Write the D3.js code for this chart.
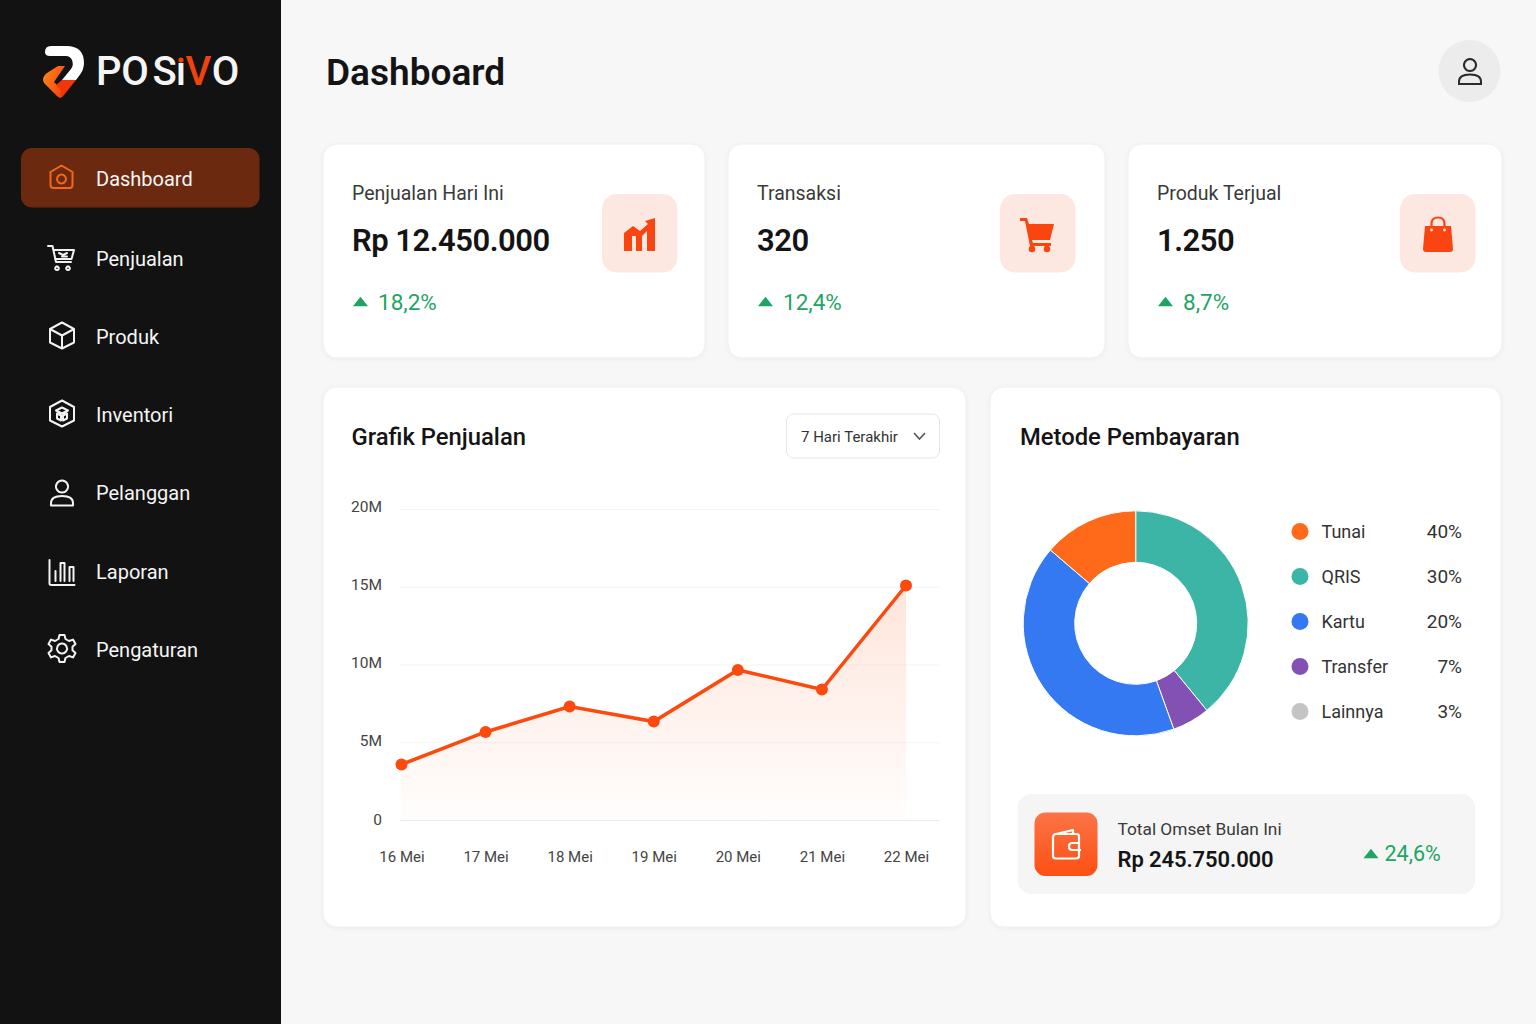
<!DOCTYPE html>
<html>
<head>
<meta charset="utf-8">
<title>Dashboard</title>
<script src="https://cdn.jsdelivr.net/npm/d3@7"></script>
<style>
  html, body { margin: 0; padding: 0; background: #f7f7f7; }
  svg { display: block; }
  text { font-family: Roboto, sans-serif; }
</style>
</head>
<body>
<div id="chart-area"></div>
<script>
// data
var days = ["16 Mei", "17 Mei", "18 Mei", "19 Mei", "20 Mei", "21 Mei", "22 Mei"];
var sales = [3.57, 5.66, 7.3, 6.33, 9.65, 8.39, 15.08];
var salesTicks = [0, 5, 10, 15, 20];

// the ring is drawn in other shares than the legend prints, so both are kept
var sliceColors = ["#3db5a6", "#8350b4", "#3478f2", "#ff6a1a"];
var sliceShares = [39.1, 5.4, 41.8, 13.7];
var legendNames = ["Tunai", "QRIS", "Kartu", "Transfer", "Lainnya"];
var legendLabels = ["40%", "30%", "20%", "7%", "3%"];
var legendColors = ["#ff6a1a", "#3db5a6", "#3478f2", "#8350b4", "#c4c4c4"];

var menuNames = ["Dashboard", "Penjualan", "Produk", "Inventori", "Pelanggan", "Laporan", "Pengaturan"];
var menuY = [178, 258, 336, 414, 492, 571, 649];

var cardTitles = ["Penjualan Hari Ini", "Transaksi", "Produk Terjual"];
var cardValues = ["Rp 12.450.000", "320", "1.250"];
var cardChanges = ["18,2%", "12,4%", "8,7%"];
var cardX = [323, 728, 1128];
var cardW = [382, 377, 374];
var badgeX = [602, 1000, 1400];

var svg = d3.select("#chart-area")
    .append("svg")
        .attr("width", 1536)
        .attr("height", 1024);

var defs = svg.append("defs");

var shadow = defs.append("filter").attr("id", "card-shadow")
    .attr("x", "-5%").attr("y", "-5%").attr("width", "110%").attr("height", "110%");
shadow.append("feDropShadow")
    .attr("dx", 0).attr("dy", 1).attr("stdDeviation", 2)
    .attr("flood-color", "#000").attr("flood-opacity", 0.05);

var areaFill = defs.append("linearGradient").attr("id", "area-fill")
    .attr("gradientUnits", "userSpaceOnUse")
    .attr("x1", 0).attr("x2", 0).attr("y1", 585).attr("y2", 820);
areaFill.append("stop").attr("offset", 0).attr("stop-color", "#ff5a1f").attr("stop-opacity", 0.16);
areaFill.append("stop").attr("offset", 1).attr("stop-color", "#ff5a1f").attr("stop-opacity", 0.01);

var walletFill = defs.append("linearGradient").attr("id", "wallet-fill")
    .attr("x1", 0).attr("x2", 0).attr("y1", 0).attr("y2", 1);
walletFill.append("stop").attr("offset", 0).attr("stop-color", "#fb7447");
walletFill.append("stop").attr("offset", 1).attr("stop-color", "#fd4f12");

var logoFill = defs.append("linearGradient").attr("id", "logo-fill")
    .attr("x1", 0).attr("x2", 1).attr("y1", 0).attr("y2", 0.6);
logoFill.append("stop").attr("offset", 0).attr("stop-color", "#ff8a1e");
logoFill.append("stop").attr("offset", 1).attr("stop-color", "#f4480c");

function label(parent, x, y, str, size, weight, color, anchor) {
    return parent.append("text")
        .attr("x", x)
        .attr("y", y)
        .attr("font-size", size + "px")
        .attr("font-weight", weight)
        .attr("fill", color)
        .attr("text-anchor", anchor || "start")
        .text(str);
}

function card(x, y, w, h) {
    svg.append("rect")
        .attr("x", x).attr("y", y)
        .attr("width", w).attr("height", h)
        .attr("rx", 14)
        .attr("fill", "#fff")
        .attr("stroke", "#efefef")
        .attr("filter", "url(#card-shadow)");
}

function upArrow(x, y) {
    svg.append("path")
        .attr("d", d3.symbol(d3.symbolTriangle, 78)())
        .attr("transform", `translate(${x},${y}) scale(1.12,0.82)`)
        .attr("fill", "#1fa463");
}

// sidebar
svg.append("rect").attr("width", 281).attr("height", 1024).attr("fill", "#121212");

// logo
var logo = svg.append("g");
logo.append("path")
    .attr("d", "M43 80 Q43 76 47 73 L58 66 L65 66 L54 82 L62 90 L61 98 Q59 98 57 96 L45 84 Q43 82 43 80 Z")
    .attr("fill", "url(#logo-fill)");
logo.append("path")
    .attr("d", "M62 80 H76 L64 95 Q62 98 60 98 L61 90 L56 85 Z")
    .attr("fill", "#f1360b");
logo.append("path")
    .attr("d", "M45 52 Q45 46 51 46 H68 Q84 47 84 63 Q84 70 79 76 L76 80 H62 L71 69 Q74 65 72 60 Q70 56 66 56 H50 Q45 56 45 52 Z")
    .attr("fill", "#fff");
label(logo, 96, 85, "P", 40, 500, "#f5f5f5");
label(logo, 135, 85, "O", 40, 500, "#f5f5f5", "middle");
label(logo, 164.5, 85, "S", 40, 500, "#f5f5f5", "middle");
label(logo, 181, 85, "\u0131", 40, 500, "#f5f5f5", "middle");
logo.append("circle").attr("cx", 181).attr("cy", 60).attr("r", 2.6).attr("fill", "#f0410e");
label(logo, 198.5, 85, "V", 40, 500, "#f0410e", "middle");
label(logo, 225.5, 85, "O", 40, 500, "#f5f5f5", "middle");

// menu
svg.append("rect")
    .attr("x", 21).attr("y", 148)
    .attr("width", 238.5).attr("height", 59.5)
    .attr("rx", 11)
    .attr("fill", "#6b2a10");

var menu = svg.append("g");
menuNames.forEach(function(name, i) {
    label(menu, 96, menuY[i] + 7.5, name, 20, 400, "#f5f5f5");
});

// menu icons, 24 box centred on the row
var iconPaths = [
    "M1 7 L12 0.5 L23 7 V20 Q23 23 20 23 H4 Q1 23 1 20 Z M12 9.5 a4.5 4.5 0 1 0 0.01 0 Z",
    "M0 1 H4.5 L8 17 H23 M5.5 5 H26 L23.5 14 H7 M9 21.5 a1.8 1.8 0 1 0 0.01 0 M20 21.5 a1.8 1.8 0 1 0 0.01 0 M11 8 L15 10 M19 8 L15 10 M14 11.5 H19",
    "M12 0 L24 6.5 V20 L12 26 L0 20 V6.5 Z M0 6.5 L12 13 L24 6.5 M12 13 V26",
    "M12 0 L24 6.5 V20 L12 26 L0 20 V6.5 Z M6 10 L12 7 L18 10 L12 13 Z M7 13 L11 15 V20 L7 18 Z M17 13 L13 15 V20 L17 18 Z",
    "M12 1 a6 6 0 1 0 0.01 0 Z M1 26 V23.5 Q1 16.5 12 16.5 Q23 16.5 23 23.5 V26 Z",
    "M0 1 V24.5 Q0 26 2 26 H25 M6 22 V12 M11 22 V4 M11 4 H15 V22 M20 22 V8 H24 V22",
    "M10 0 H15 L16 4 L19.5 6 L23.5 4.6 L26 9 L23 11.7 V15.3 L26 18 L23.5 22.4 L19.5 21 L16 23 L15 27 H10 L9 23 L5.5 21 L1.5 22.4 L-1 18 L2 15.3 V11.7 L-1 9 L1.5 4.6 L5.5 6 L9 4 Z M12.5 8.5 a5 5 0 1 0 0.01 0 Z"
];
var iconX = [49.5, 48, 50, 50, 50, 49.5, 49.5];
var iconTop = [165, 245, 322.5, 400.5, 479.5, 559, 635];
iconPaths.forEach(function(d, i) {
    svg.append("path")
        .attr("d", d)
        .attr("transform", `translate(${iconX[i]},${iconTop[i]})`)
        .attr("fill", "none")
        .attr("stroke", i === 0 ? "#f4661b" : "#f2f2f2")
        .attr("stroke-width", 2)
        .attr("stroke-linejoin", "round")
        .attr("stroke-linecap", "round");
});

// header
label(svg, 326, 85, "Dashboard", 37, 600, "#141414");
svg.append("circle").attr("cx", 1469.5).attr("cy", 71).attr("r", 31).attr("fill", "#ececec");
svg.append("path")
    .attr("d", "M12 1 a6 6 0 1 0 0.01 0 Z M1 26 V23.5 Q1 16.5 12 16.5 Q23 16.5 23 23.5 V26 Z")
    .attr("transform", "translate(1458,58)")
    .attr("fill", "none")
    .attr("stroke", "#2a2a2a")
    .attr("stroke-width", 2);

// stat cards
cardTitles.forEach(function(t, i) {
    var x = cardX[i];
    var textX = x + 29;
    card(x, 144, cardW[i], 214);
    label(svg, textX, 200, t, 19.5, 400, "#3a3a3a");
    label(svg, textX, 251, cardValues[i], 31, 600, "#141414")
        .attr("letter-spacing", "-0.5px");
    upArrow(textX + 8.5, 303);
    label(svg, textX + 26, 310, cardChanges[i], 22.5, 400, "#1fa463");
    svg.append("rect")
        .attr("x", badgeX[i]).attr("y", 194)
        .attr("width", 75.5).attr("height", 78.5)
        .attr("rx", 15)
        .attr("fill", "#fde8e1");
});

// card glyphs
svg.append("path")
    .attr("d", "M624 251 V233 L633 226 L640 231 L648 224 L645 221 L655 218 V251 H647 V231 L642 236 V251 H636 V236 H632 V251 Z")
    .attr("fill", "#fb4510");
svg.append("path")
    .attr("d", "M1020 218 H1027 L1029 224 H1054 L1050 240 H1032 L1033 243 H1051 V246 H1030 L1025 221 H1020 Z")
    .attr("fill", "#fb4510");
svg.selectAll("circle.wheel").data([1032, 1047]).enter().append("circle")
    .attr("class", "wheel")
    .attr("cx", d => d).attr("cy", 249).attr("r", 3.3)
    .attr("fill", "#fb4510");
svg.append("path")
    .attr("d", "M1425 226 H1451 L1453 249 Q1453 252 1450 252 H1426 Q1423 252 1423 249 Z")
    .attr("fill", "#fb4510");
svg.append("path")
    .attr("d", "M1431.5 230 V224 Q1431.5 217.5 1438 217.5 Q1444.5 217.5 1444.5 224 V230")
    .attr("fill", "none")
    .attr("stroke", "#fb4510")
    .attr("stroke-width", 2.2);
svg.selectAll("circle.hole").data([1431.5, 1444.5]).enter().append("circle")
    .attr("class", "hole")
    .attr("cx", d => d).attr("cy", 230).attr("r", 1.4)
    .attr("fill", "#ffe9e1");

// sales chart
card(323, 387, 643, 540);
label(svg, 351.5, 444.5, "Grafik Penjualan", 23.8, 500, "#141414");

svg.append("rect")
    .attr("x", 786.5).attr("y", 414)
    .attr("width", 153).attr("height", 44)
    .attr("rx", 7)
    .attr("fill", "#fff")
    .attr("stroke", "#e6e6e6");
label(svg, 801, 441.5, "7 Hari Terakhir", 15, 400, "#333");
svg.append("path")
    .attr("d", "M914 433 L919.5 439 L925 433")
    .attr("fill", "none")
    .attr("stroke", "#555")
    .attr("stroke-width", 1.6);

var x = d3.scalePoint().domain(days).range([401.5, 906]);
var y = d3.scaleLinear().domain([0, 20]).range([820, 509]);

var yAxisCall = d3.axisLeft(y)
    .tickValues(salesTicks)
    .tickSize(-540)
    .tickPadding(18)
    .tickFormat(d => d === 0 ? "0" : d + "M");
var yAxis = svg.append("g")
    .attr("class", "y axis")
    .attr("transform", "translate(400,0)")
    .call(yAxisCall);
yAxis.select(".domain").remove();
yAxis.selectAll("line").attr("stroke", d => d === 0 ? "#ececec" : "#f3f3f3");
yAxis.selectAll("text")
    .attr("font-size", "15.5px")
    .attr("fill", "#444")
    .attr("y", d => d === 0 ? 0 : -2)
    .attr("dy", "0.32em")
    .attr("font-family", "Roboto, sans-serif");

var xAxisCall = d3.axisBottom(x).tickSize(0).tickPadding(31);
var xAxis = svg.append("g")
    .attr("class", "x axis")
    .attr("transform", "translate(0,820)")
    .call(xAxisCall);
xAxis.select(".domain").remove();
xAxis.selectAll("text")
    .attr("font-size", "15px")
    .attr("fill", "#444")
    .attr("font-family", "Roboto, sans-serif");

var area = d3.area()
    .x((d, i) => x(days[i]))
    .y0(y(0))
    .y1(d => y(d));
svg.append("path").datum(sales).attr("d", area).attr("fill", "url(#area-fill)");

var line = d3.line()
    .x((d, i) => x(days[i]))
    .y(d => y(d));
svg.append("path").datum(sales)
    .attr("d", line)
    .attr("fill", "none")
    .attr("stroke", "#fb4a0e")
    .attr("stroke-width", 3.5);

svg.selectAll("circle.dot").data(sales).enter().append("circle")
    .attr("class", "dot")
    .attr("cx", (d, i) => x(days[i]))
    .attr("cy", d => y(d))
    .attr("r", 6)
    .attr("fill", "#fb4a0e");

// payment methods
card(990, 387, 511, 540);
label(svg, 1020, 444.5, "Metode Pembayaran", 23.8, 500, "#141414");

var pie = d3.pie().sort(null);
var arc = d3.arc().innerRadius(61).outerRadius(112.5);
svg.append("g")
    .attr("transform", "translate(1135.7,623.3)")
    .selectAll("path")
    .data(pie(sliceShares))
    .enter()
    .append("path")
        .attr("d", arc)
        .attr("fill", (d, i) => sliceColors[i])
        .attr("stroke", "#fff")
        .attr("stroke-width", 1);

var legendY = d3.scalePoint().domain(legendNames).range([531.5, 711.5]);
legendNames.forEach(function(name, i) {
    var ly = legendY(name);
    svg.append("circle").attr("cx", 1300).attr("cy", ly).attr("r", 8.5).attr("fill", legendColors[i]);
    label(svg, 1321.5, ly + 6.5, name, 18, 400, "#333");
    label(svg, 1462, ly + 6.5, legendLabels[i], 19, 400, "#333", "end");
});

// total box
svg.append("rect")
    .attr("x", 1017.5).attr("y", 794)
    .attr("width", 457.5).attr("height", 100)
    .attr("rx", 14)
    .attr("fill", "#f5f5f5");
svg.append("rect")
    .attr("x", 1034.5).attr("y", 812.5)
    .attr("width", 63).attr("height", 63.5)
    .attr("rx", 11)
    .attr("fill", "url(#wallet-fill)");
svg.append("path")
    .attr("d", "M1053 836 V856 Q1053 858.5 1056 858.5 H1076 Q1079 858.5 1079 856 V836 Q1079 834 1076 834 H1056 Q1053 834 1053 838 M1056 834 L1073 830 V834 M1079 843 H1072 Q1069 843 1069 846.5 Q1069 850 1072 850 H1081")
    .attr("fill", "none")
    .attr("stroke", "#fff")
    .attr("stroke-width", 2.2)
    .attr("stroke-linejoin", "round");
label(svg, 1117.5, 835, "Total Omset Bulan Ini", 17.3, 400, "#3a3a3a");
label(svg, 1117.5, 866.5, "Rp 245.750.000", 22, 600, "#141414")
    .attr("letter-spacing", "-0.1px");
upArrow(1371, 855);
label(svg, 1384.5, 861, "24,6%", 21.5, 400, "#1fa463");
</script>
</body>
</html>
